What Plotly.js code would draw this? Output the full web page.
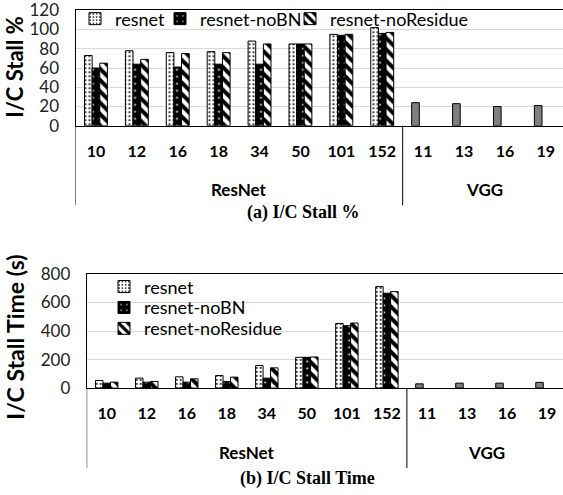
<!DOCTYPE html>
<html><head><meta charset="utf-8">
<script src="https://cdn.plot.ly/plotly-3.0.1.min.js"></script>
<style>html,body{margin:0;padding:0;background:#fff}#chart{width:563px;height:495px}</style>
</head><body><div id="chart"></div>
<script>
const resnetDepths = ['10','12','16','18','34','50','101','152'];
const vggDepths = ['11','13','16','19'];
const groupLabels = ['ResNet', 'VGG'];
const seriesNames = ['resnet','resnet-noBN','resnet-noResidue'];

const stallPctResnet = [73, 78, 76, 77, 88, 85, 95, 102];
const stallPctNoBN = [60, 64, 61, 64, 64, 85, 94, 96];
const stallPctNoResidue = [65, 69, 75, 76, 85, 85, 95, 97];
const stallPctVGG = [24, 23, 20, 21];

const stallTimeResnet = [54, 70, 79, 88, 158, 216, 453, 711];
const stallTimeNoBN = [35, 42, 42, 47, 70, 216, 437, 665];
const stallTimeNoResidue = [42, 47, 65, 77, 142, 218, 456, 676];
const stallTimeVGG = [30, 35, 35, 40];

const W = 563, H = 495;
const allDepths = resnetDepths.concat(vggDepths);
const tickPos = allDepths.map((_, i) => i);
const resPos = resnetDepths.map((_, i) => i);
const vggPos = vggDepths.map((_, i) => resnetDepths.length + i);

const styles = [
  {color: '#ffffff', pattern: {shape: '.', fgcolor: '#000000', bgcolor: '#ffffff', size: 4, solidity: 0.18}},
  {color: '#000000', pattern: {shape: '.', fgcolor: '#ffffff', bgcolor: '#000000', size: 7, solidity: 0.06}},
  {color: '#ffffff', pattern: {shape: '\\', fgcolor: '#000000', bgcolor: '#ffffff', size: 8, solidity: 0.5}}
];

function makeTraces(seriesVals, vggVals, xa, ya, legendIds) {
  const out = seriesVals.map((vals, i) => ({
    type: 'bar', name: seriesNames[i], x: resPos, y: vals,
    xaxis: xa, yaxis: ya, legend: legendIds[i], offsetgroup: 'g' + i,
    marker: {color: styles[i].color, pattern: styles[i].pattern, line: {color: '#000', width: 1}},
    hoverinfo: 'skip'
  }));
  out.push({
    type: 'bar', name: 'VGG', x: vggPos, y: vggVals,
    xaxis: xa, yaxis: ya, legend: legendIds[0], offsetgroup: 'g0', showlegend: false,
    marker: {color: '#7f7f7f', line: {color: '#000', width: 1}},
    hoverinfo: 'skip'
  });
  return out;
}

const data = [].concat(
  makeTraces([stallPctResnet, stallPctNoBN, stallPctNoResidue], stallPctVGG, 'x', 'y', ['legend', 'legend3', 'legend4']),
  makeTraces([stallTimeResnet, stallTimeNoBN, stallTimeNoResidue], stallTimeVGG, 'x2', 'y2', ['legend2', 'legend5', 'legend6'])
);

const xCommon = {
  type: 'linear', showline: true, linecolor: '#000', linewidth: 1, mirror: true,
  tickmode: 'array', tickvals: tickPos, ticktext: allDepths,
  tickfont: {family: 'Lato', size: 16, weight: 'bold', color: '#000'}, ticklabelstandoff: 11,
  ticks: '', showgrid: false, zeroline: false, fixedrange: true
};
const yCommon = {
  showline: true, linecolor: '#000', linewidth: 1, mirror: true,
  gridcolor: '#d9d9d9', gridwidth: 1, zeroline: false, ticks: '',
  tickfont: {family: 'Lato', size: 17, color: '#222'}, ticklabelstandoff: 12,
  ticklabeloverflow: 'allow', fixedrange: true
};

const plots = [
  {top: 8.3, bottom: 124.3, left: 75.5, range: [-0.5, 11.42], groupY: 188, divEnd: 204},
  {top: 273, bottom: 387.7, left: 86.7, range: [-0.5, 11.4], groupY: 452, divEnd: 468}
];

function legendAt(textX, cy) {
  return {x: (textX - 38) / W, y: 1 - cy / H, xanchor: 'left', yanchor: 'middle', orientation: 'v',
    font: {family: 'Lato', size: 18, color: '#000'}, bgcolor: 'rgba(0,0,0,0)', itemwidth: 30};
}

const shapes = [];
const annotations = [];
plots.forEach((p, k) => {
  const xr = k === 0 ? 'x' : 'x2';
  const y0 = 1 - p.bottom / H, y1 = 1 - p.divEnd / H;
  [-0.5, resnetDepths.length - 0.5].forEach(xv => {
    shapes.push({type: 'line', xref: xr, yref: 'paper', x0: xv, x1: xv, y0: y0, y1: y1,
      line: {color: '#000', width: 1}});
  });
  annotations.push({text: groupLabels[0], xref: xr, yref: 'paper', x: (resnetDepths.length - 1) / 2, y: 1 - p.groupY / H,
    xanchor: 'center', yanchor: 'middle', showarrow: false, font: {family: 'Lato', size: 17, weight: 'bold', color: '#000'}});
  annotations.push({text: groupLabels[1], xref: xr, yref: 'paper', x: resnetDepths.length + (vggDepths.length - 1) / 2, y: 1 - p.groupY / H,
    xanchor: 'center', yanchor: 'middle', showarrow: false, font: {family: 'Lato', size: 17, weight: 'bold', color: '#000'}});
});

annotations.push(
  {text: 'I/C Stall %', textangle: -90, xref: 'paper', yref: 'paper', x: 15 / W, y: 1 - 65 / H,
   xanchor: 'center', yanchor: 'middle', showarrow: false, font: {family: 'Lato', size: 22, weight: 'bold', color: '#000'}},
  {text: 'I/C Stall Time (s)', textangle: -90, xref: 'paper', yref: 'paper', x: 15 / W, y: 1 - 337 / H,
   xanchor: 'center', yanchor: 'middle', showarrow: false, font: {family: 'Lato', size: 23, weight: 'bold', color: '#000'}},
  {text: '(a) I/C Stall %', xref: 'paper', yref: 'paper', x: 303 / W, y: 1 - 211 / H,
   xanchor: 'center', yanchor: 'middle', showarrow: false, font: {family: 'Liberation Serif', size: 18, weight: 'bold', color: '#000'}},
  {text: '(b) I/C Stall Time', xref: 'paper', yref: 'paper', x: 308 / W, y: 1 - 478 / H,
   xanchor: 'center', yanchor: 'middle', showarrow: false, font: {family: 'Liberation Serif', size: 18, weight: 'bold', color: '#000'}}
);

const layout = {
  width: W, height: H, margin: {l: 0, r: 0, t: 0, b: 0},
  paper_bgcolor: '#fff', plot_bgcolor: '#fff',
  barmode: 'group', bargap: 0.44, bargroupgap: 0,
  font: {family: 'Lato, sans-serif', color: '#000'},
  xaxis: Object.assign({}, xCommon, {domain: [plots[0].left / W, 1], anchor: 'y', range: plots[0].range}),
  yaxis: Object.assign({}, yCommon, {domain: [1 - plots[0].bottom / H, 1 - plots[0].top / H], anchor: 'x', range: [0, 120], dtick: 20}),
  xaxis2: Object.assign({}, xCommon, {domain: [plots[1].left / W, 1], anchor: 'y2', range: plots[1].range}),
  yaxis2: Object.assign({}, yCommon, {domain: [1 - plots[1].bottom / H, 1 - plots[1].top / H], anchor: 'x2', range: [0, 800], dtick: 200}),
  legend: legendAt(113, 17),
  legend3: legendAt(198, 17),
  legend4: legendAt(328, 17),
  legend2: legendAt(142, 286),
  legend5: legendAt(142, 307),
  legend6: legendAt(142, 328),
  shapes: shapes,
  annotations: annotations
};

Plotly.newPlot('chart', data, layout, {displayModeBar: false, staticPlot: true});
</script>
</body></html>
